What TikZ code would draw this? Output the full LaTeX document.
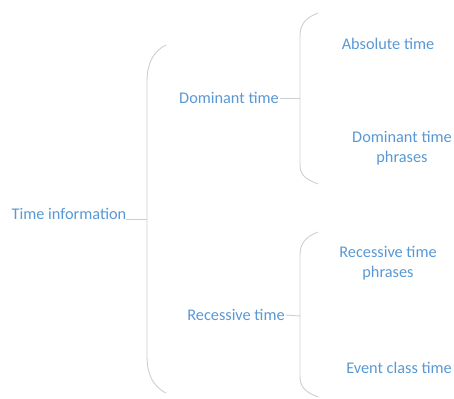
\documentclass[tikz,border=0pt]{standalone}
\usepackage{fontspec}
\setmainfont{Carlito}
\usetikzlibrary{positioning}
\definecolor{tiblue}{RGB}{88,152,212}
\definecolor{tigray}{RGB}{204,206,211}
\tikzstyle{topic} = [text=tiblue, font=\fontsize{16.3}{20}\selectfont, align=center, inner sep=0pt]
\tikzstyle{link} = [tigray, line width=0.9pt]

\begin{document}
\begin{tikzpicture}[x=1pt,y=-1pt]
\useasboundingbox (0,0) rectangle (454,398);

% fork points on the brackets
\coordinate (fork1) at (147,219);
\coordinate (fork2) at (300,98);
\coordinate (fork3) at (300,316);

% Root and branches
\node[topic, anchor=base] (root) at (69,219) {Time information};
\node[topic] (dom) at (229,98) {Dominant time};
\node[topic] (rec) at (236,315) {Recessive time};

% Leaves
\node[topic] (abs) at (388,44) {Absolute time};
\node[topic] (domph) at (402,148) {Dominant time\\phrases};
\node[topic] (recph) at (388,263) {Recessive time\\phrases};
\node[topic, anchor=east] (event) at (452,368) {Event class time};

% Brackets
\draw[link] (166,45) .. controls (152,52) and (147,65) .. (147,82) -- (147,356) .. controls (147,373) and (152,386) .. (166,393);
\draw[link] (318,13) .. controls (305,18) and (300,25) .. (300,36) -- (300,164) .. controls (300,175) and (305,179) .. (318,184);
\draw[link] (318,232) .. controls (305,237) and (300,244) .. (300,255) -- (300,376) .. controls (300,387) and (305,392) .. (318,397);

% Stubs
\draw[link] (root.base east) -- (fork1);
\draw[link] (dom.east) ++(1,0) -- (fork2);
\draw[link] (rec.east) ++(1,0) -- (fork3);
\end{tikzpicture}
\end{document}
